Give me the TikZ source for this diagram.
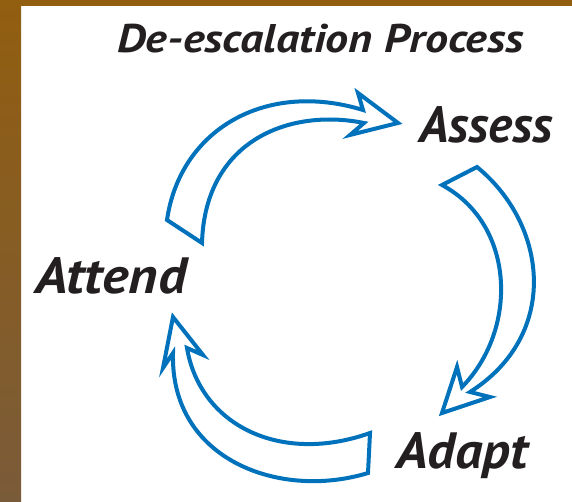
\documentclass[tikz,border=0pt]{standalone}
\usepackage{fontspec}
\newfontfamily\lblfont{PT Sans}
\definecolor{arrowblue}{RGB}{0,114,188}
\definecolor{txtdark}{RGB}{35,31,32}
\definecolor{bandtop}{RGB}{146,94,16}
\definecolor{bandbot}{RGB}{122,91,57}
\begin{document}
\begin{tikzpicture}[x=1pt,y=-1pt,
  blockarrow/.style={draw=arrowblue,fill=white,line width=4pt,line join=miter,miter limit=10},
  title/.style={font=\lblfont\bfseries\itshape\fontsize{40}{44}\selectfont,text=txtdark,inner sep=0pt,anchor=base},
  steplabel/.style={font=\lblfont\bfseries\itshape\fontsize{51}{56}\selectfont,text=txtdark,inner sep=0pt,anchor=base}]
\path[use as bounding box,fill=white] (0,0) rectangle (572,502);
% border bands
\fill[bandtop] (0,0) rectangle (572,6);
\shade[top color=bandtop,bottom color=bandbot] (0,0) rectangle (21,502);
% title
\node[title] (ttl) at (320.5,53) {\scalebox{1.15}[1]{De-escalation Process}};
% step labels
\node[steplabel] (assess) at (486,143) {Assess};
\node[steplabel] (attend) at (111,293) {\scalebox{1.1}[1]{Attend}};
\node[steplabel] (adapt) at (462,468) {\scalebox{1.07}[1]{Adapt}};
% arrow Attend -> Assess
\draw[blockarrow] (167,220) .. controls (180,130) and (265,80) .. (363,110)
  -- (358,93) -- (398,123) -- (350,135) -- (364,123)
  .. controls (290,108) and (205,140) .. (202,243) -- cycle;
% arrow Assess -> Adapt
\draw[blockarrow] (477,167) .. controls (548,225) and (560,335) .. (470,392)
  -- (490,397) -- (442,413) -- (457,367) -- (462,387)
  .. controls (518,330) and (516,225) .. (442,185) -- cycle;
% arrow Adapt -> Attend
\draw[blockarrow] (368,473) .. controls (280,500) and (170,460) .. (173,353)
  -- (163,368) -- (173,317) -- (203,355) -- (187,348)
  .. controls (200,425) and (280,465) .. (370,433) -- cycle;
\end{tikzpicture}
\end{document}
